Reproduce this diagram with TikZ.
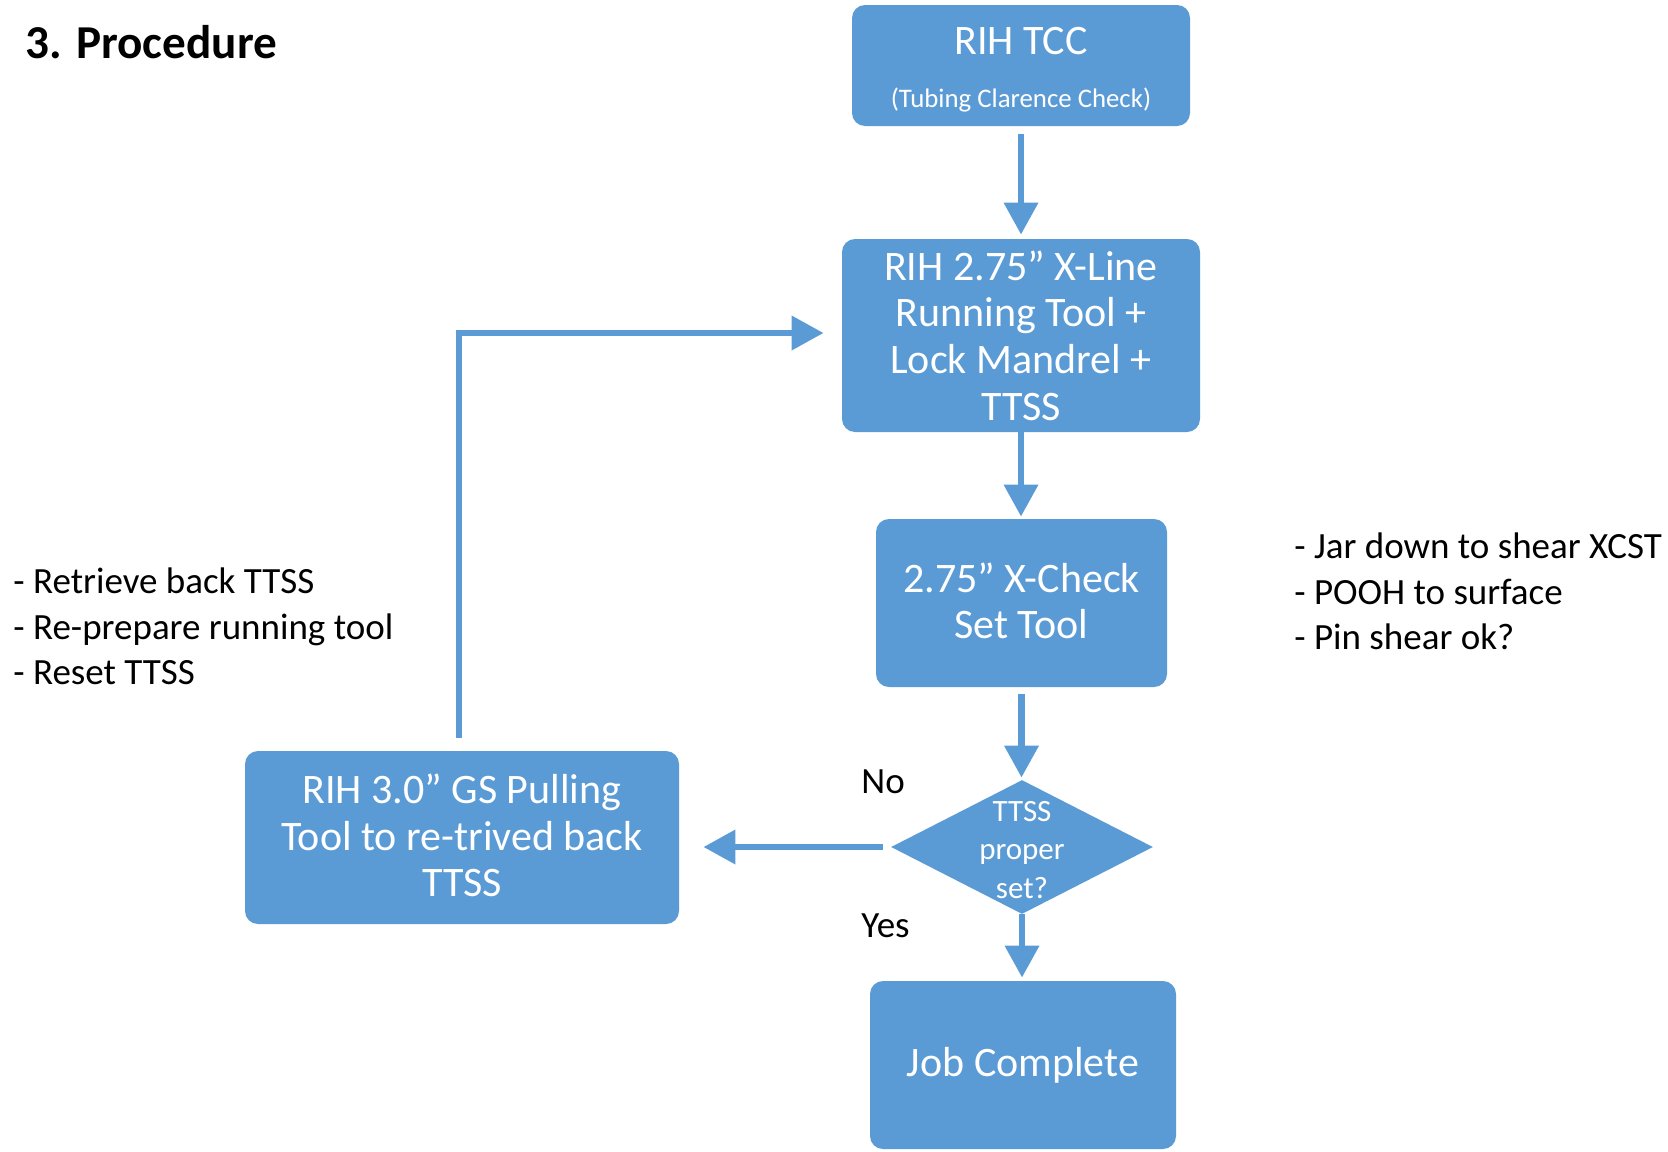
\documentclass[tikz,border=0pt]{standalone}
\usepackage{fontspec}
\setmainfont{Carlito}
\usetikzlibrary{arrows.meta,shapes.geometric}
\definecolor{boxblue}{HTML}{5B9BD5}
\begin{document}
\begin{tikzpicture}[x=0.5pt,y=-0.5pt,
  box/.style={fill=boxblue, rounded corners=6.5pt, text=white, align=center, inner sep=0pt},
  conn/.style={draw=boxblue, line width=3.4pt, -{Triangle[length=16pt,width=16.5pt]}},
  note/.style={anchor=base west, inner sep=0pt, font=\fontsize{18.5pt}{22pt}\selectfont},
  yn/.style={anchor=base west, inner sep=0pt, font=\fontsize{18.5pt}{22pt}\selectfont}]
\useasboundingbox[fill=white] (0,0) rectangle (1668,1151);

\node[anchor=base west, inner sep=0pt, font=\bfseries\fontsize{23.6pt}{28pt}\selectfont] (title) at (25,58) {3. Procedure};

\node[box, minimum width=169pt, minimum height=60.5pt, font=\fontsize{13.4pt}{26.5pt}\selectfont] (tcc) at (1021,65.5)
  {{\fontsize{21pt}{26.5pt}\selectfont\rule{0pt}{17.8pt}RIH TCC}\\(Tubing Clarence Check)};
\node[box, minimum width=179pt, minimum height=96.5pt, font=\fontsize{21pt}{23.3pt}\selectfont] (run) at (1021,335.5)
  {RIH 2.75” X-Line\\Running Tool +\\Lock Mandrel +\\TTSS};
\node[box, minimum width=145.5pt, minimum height=84pt, font=\fontsize{21pt}{23.3pt}\selectfont] (xcheck) at (1021.5,603)
  {2.75” X-Check\\Set Tool\rule[-2.5pt]{0pt}{0pt}};
\node[diamond, fill=boxblue, minimum width=131pt, minimum height=67pt, inner sep=0pt] (dec) at (1022,847) {};
\node[text=white, align=center, inner sep=0pt, font=\fontsize{15.5pt}{19.2pt}\selectfont] (dectext) at (1022,850) {TTSS\\proper\\set?};
\node[box, minimum width=153pt, minimum height=84pt, font=\fontsize{21pt}{24pt}\selectfont] (done) at (1023,1065)
  {Job Complete};
\node[box, minimum width=217pt, minimum height=86.5pt, font=\fontsize{21pt}{23.3pt}\selectfont] (gs) at (462,837.5)
  {RIH 3.0” GS Pulling\\Tool to re-trived back\\TTSS\rule[-2pt]{0pt}{0pt}};

\node[yn] (no) at (861,793) {No};
\node[yn] (yes) at (861,937) {Yes};

\node[note] (l1) at (13,593) {- Retrieve back TTSS};
\node[note] (l2) at (13,639) {- Re-prepare running tool};
\node[note] (l3) at (13,684) {- Reset TTSS};
\node[note] (r1) at (1294,558) {- Jar down to shear XCST};
\node[note] (r2) at (1294,604) {- POOH to surface};
\node[note] (r3) at (1294,649) {- Pin shear ok?};

\draw[conn, shorten <=4pt, shorten >=2pt] (tcc.south) -- (run.north);
\draw[conn, shorten >=1pt] (run.south) -- (run.south |- xcheck.north);
\draw[conn, shorten <=3.5pt, shorten >=1pt] (xcheck.south) -- (xcheck.south |- dec.north);
\draw[conn, shorten >=1.5pt] (dec.south) -- (dec.south |- done.north);
\draw[conn, shorten <=4pt, shorten >=12pt] (dec.west) -- (dec.west -| gs.east);
\draw[conn, shorten <=6.5pt, shorten >=9pt] ([xshift=-1.5pt]gs.north) |- ([yshift=1.25pt]run.west);
\end{tikzpicture}
\end{document}
